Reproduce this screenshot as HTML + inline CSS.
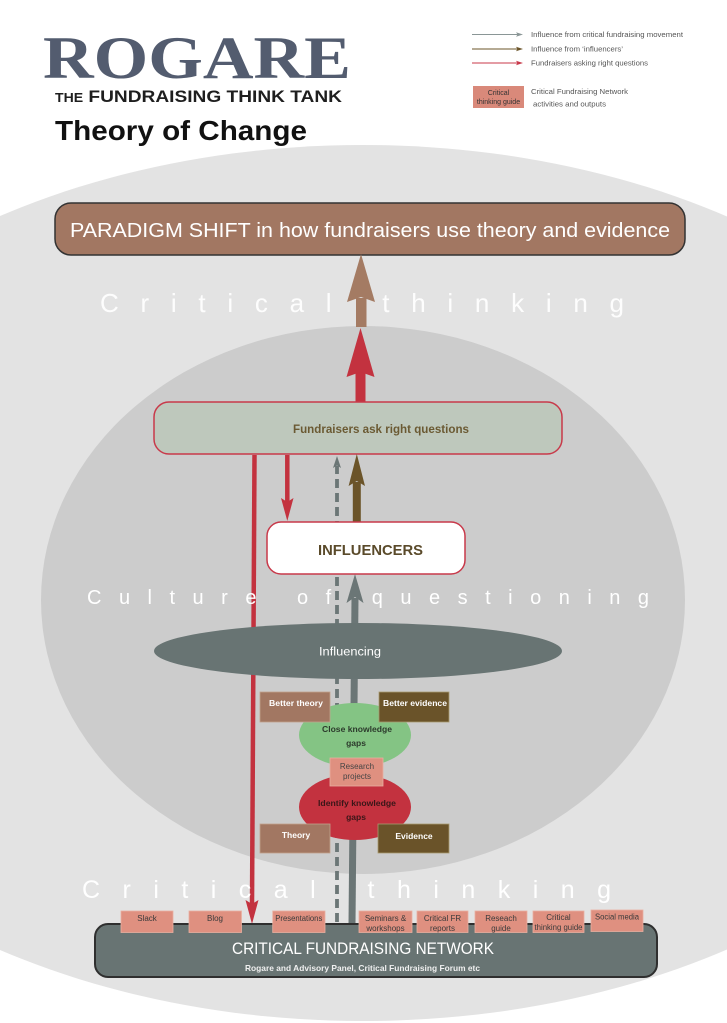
<!DOCTYPE html>
<html><head><meta charset="utf-8"><style>
html,body{margin:0;padding:0;background:#fff;}
svg{display:block;}
text{font-family:"Liberation Sans",sans-serif;}
text.serif{font-family:"Liberation Serif",serif;}
</style></head><body>
<svg width="727" height="1023" viewBox="0 0 727 1023" xmlns="http://www.w3.org/2000/svg">
<rect width="727" height="1023" fill="#fff"/>
<ellipse cx="363" cy="583" rx="665" ry="438" fill="#e3e3e3"/>
<ellipse cx="363" cy="600" rx="322" ry="274" fill="#cccccc"/>

<!-- header -->
<text class="serif" x="43" y="78" font-weight="bold" font-size="60" fill="#535c6f" textLength="308" lengthAdjust="spacingAndGlyphs">ROGARE</text>
<text x="55" y="102" font-weight="bold" font-size="17" fill="#1e1e1e" textLength="287" lengthAdjust="spacingAndGlyphs"><tspan font-size="12.5">THE</tspan> FUNDRAISING THINK TANK</text>
<text x="55" y="140" font-weight="bold" font-size="28" fill="#111" textLength="252" lengthAdjust="spacingAndGlyphs">Theory of Change</text>

<!-- legend -->
<line x1="472" y1="34.5" x2="518" y2="34.5" stroke="#8a9696" stroke-width="1"/>
<path d="M523,34.5 L516,32.2 L517.5,34.5 L516,36.8 Z" fill="#8a9696"/>
<text x="531" y="37" font-size="7.3" fill="#555" textLength="152" lengthAdjust="spacingAndGlyphs">Influence from critical fundraising movement</text>
<line x1="472" y1="49" x2="518" y2="49" stroke="#6b5429" stroke-width="1"/>
<path d="M523,49 L516,46.7 L517.5,49 L516,51.3 Z" fill="#6b5429"/>
<text x="531" y="51.5" font-size="7.3" fill="#555" textLength="92" lengthAdjust="spacingAndGlyphs">Influence from ‘influencers’</text>
<line x1="472" y1="63" x2="518" y2="63" stroke="#c8394a" stroke-width="1"/>
<path d="M523,63 L516,60.7 L517.5,63 L516,65.3 Z" fill="#c8394a"/>
<text x="531" y="65.5" font-size="7.3" fill="#555" textLength="117" lengthAdjust="spacingAndGlyphs">Fundraisers asking right questions</text>
<rect x="473" y="86" width="51" height="22" fill="#d9897a"/>
<text x="498.5" y="95" font-size="7" fill="#333" text-anchor="middle">Critical</text>
<text x="498.5" y="104" font-size="7" fill="#333" text-anchor="middle">thinking guide</text>
<text x="531" y="94" font-size="7.3" fill="#555" textLength="97" lengthAdjust="spacingAndGlyphs">Critical Fundraising Network</text>
<text x="533" y="106.5" font-size="7.3" fill="#555" textLength="73" lengthAdjust="spacingAndGlyphs">activities and outputs</text>

<!-- paradigm box -->
<rect x="55" y="203" width="630" height="52" rx="16" fill="#a27762" stroke="#333" stroke-width="1.5"/>
<text x="70" y="237" font-size="20" fill="#fff" textLength="600" lengthAdjust="spacingAndGlyphs">PARADIGM SHIFT in how fundraisers use theory and evidence</text>

<!-- top arrows -->
<rect x="356" y="298" width="10.5" height="29" fill="#a47b63"/>
<path d="M361,254 L375,302 L361,297 L347,302 Z" fill="#a47b63"/>
<rect x="355.5" y="372" width="10" height="31" fill="#c3323f"/>
<path d="M360.5,328 L374.5,377 L360.5,372 L346.5,377 Z" fill="#c3323f"/>

<!-- fundraisers box -->
<rect x="154" y="402" width="408" height="52" rx="15" fill="#bec8bc" stroke="#c8394a" stroke-width="1.5"/>
<text x="293" y="433" font-size="11.5" font-weight="bold" fill="#6b5a33" textLength="176" lengthAdjust="spacingAndGlyphs">Fundraisers ask right questions</text>

<!-- lines -->
<line x1="254.5" y1="455" x2="252" y2="906" stroke="#c3323f" stroke-width="4.5"/>
<path d="M252,924 L258.5,900 L252,904 L245.5,900 Z" fill="#c3323f"/>
<line x1="287.3" y1="455" x2="287.3" y2="503" stroke="#c3323f" stroke-width="4.5"/>
<path d="M287.3,521 L293.5,498 L287.3,502 L281,498 Z" fill="#c3323f"/>
<line x1="337" y1="922" x2="337" y2="466" stroke="#6b7676" stroke-width="3.8" stroke-dasharray="9 5"/>
<path d="M337,456 L341,468 L337,465.5 L333,468 Z" fill="#6b7676"/>
<rect x="352.8" y="482" width="8" height="41" fill="#6b5429"/>
<path d="M356.8,454 L365,486 L356.8,481 L348.6,486 Z" fill="#6b5429"/>
<path d="M351.5,598 L358.5,598 L355.5,924 L348.5,924 Z" fill="#6b7676"/>
<path d="M355,574 L363.5,603 L355,597 L346.5,603 Z" fill="#6b7676"/>

<!-- influencers -->
<rect x="267" y="522" width="198" height="52" rx="14" fill="#fff" stroke="#c8394a" stroke-width="1.5"/>
<text x="318" y="555" font-size="15" font-weight="bold" fill="#5a4a2a" textLength="105" lengthAdjust="spacingAndGlyphs">INFLUENCERS</text>

<!-- letter-spaced texts -->
<text x="100" y="312" font-size="26" fill="#fff" fill-opacity="0.93" textLength="524" lengthAdjust="spacing">Critical thinking</text>
<text x="87" y="604" font-size="20" fill="#fff" textLength="562" lengthAdjust="spacing">Culture of questioning</text>
<text x="82" y="898" font-size="25" fill="#fff" textLength="529" lengthAdjust="spacing">Critical thinking</text>

<!-- influencing -->
<ellipse cx="358" cy="651" rx="204" ry="28" fill="#687473"/>
<text x="319" y="655.5" font-size="11.5" fill="#fff" textLength="62" lengthAdjust="spacingAndGlyphs">Influencing</text>

<!-- knowledge cluster -->
<ellipse cx="355" cy="735" rx="56" ry="32" fill="#84c484"/>
<ellipse cx="355" cy="807" rx="56" ry="33" fill="#c3323f"/>
<rect x="260" y="692" width="70" height="30" fill="#a27762" stroke="#c2a08c" stroke-width="0.8"/>
<text x="269" y="706" font-size="8.5" font-weight="bold" fill="#fff" textLength="54" lengthAdjust="spacingAndGlyphs">Better theory</text>
<rect x="379" y="692" width="70" height="30" fill="#6a5329" stroke="#a89a70" stroke-width="0.8"/>
<text x="383" y="706" font-size="8.5" font-weight="bold" fill="#fff" textLength="64" lengthAdjust="spacingAndGlyphs">Better evidence</text>
<text x="322" y="732" font-size="8.5" font-weight="bold" fill="#2c3a2c" textLength="70" lengthAdjust="spacingAndGlyphs">Close knowledge</text>
<text x="356" y="746" font-size="8.5" font-weight="bold" fill="#2c3a2c" text-anchor="middle">gaps</text>
<rect x="330" y="758" width="53" height="28" fill="#df9080" stroke="#e9b0a0" stroke-width="0.8"/>
<text x="357" y="769" font-size="8" fill="#444" text-anchor="middle">Research</text>
<text x="357" y="779" font-size="8" fill="#444" text-anchor="middle">projects</text>
<text x="318" y="806" font-size="8.5" font-weight="bold" fill="#3a1618" textLength="78" lengthAdjust="spacingAndGlyphs">Identify knowledge</text>
<text x="356" y="820" font-size="8.5" font-weight="bold" fill="#3a1618" text-anchor="middle">gaps</text>
<rect x="260" y="824" width="70" height="29" fill="#a27762" stroke="#c2a08c" stroke-width="0.8"/>
<text x="296" y="838" font-size="8.5" font-weight="bold" fill="#fff" text-anchor="middle">Theory</text>
<rect x="378" y="824" width="71" height="29" fill="#6a5329" stroke="#a89a70" stroke-width="0.8"/>
<text x="414" y="839" font-size="8.5" font-weight="bold" fill="#fff" text-anchor="middle">Evidence</text>

<!-- network -->
<rect x="95" y="924" width="562" height="53" rx="13" fill="#687473" stroke="#2f2f2f" stroke-width="2"/>
<text x="232" y="954" font-size="16.5" fill="#fff" textLength="262" lengthAdjust="spacingAndGlyphs">CRITICAL FUNDRAISING NETWORK</text>
<text x="245" y="971" font-size="8.5" font-weight="bold" fill="#f0f0f0" textLength="235" lengthAdjust="spacingAndGlyphs">Rogare and Advisory Panel, Critical Fundraising Forum etc</text>

<g fill="#df9080" stroke="#e9b0a0" stroke-width="0.8">
<rect x="121" y="911" width="52" height="21.5"/>
<rect x="189" y="911" width="52.5" height="21.5"/>
<rect x="272.7" y="911" width="52.3" height="21.5"/>
<rect x="359" y="911" width="53" height="21.5"/>
<rect x="417" y="911" width="51" height="21.5"/>
<rect x="475" y="911" width="52" height="21.5"/>
<rect x="533" y="911" width="51" height="21.5"/>
<rect x="591" y="910" width="52" height="21.5"/>
</g>
<g font-size="8" fill="#3a3a3a" text-anchor="middle">
<text x="147" y="921">Slack</text>
<text x="215" y="921">Blog</text>
<text x="298.8" y="921" textLength="47" lengthAdjust="spacingAndGlyphs">Presentations</text>
<text x="385.5" y="921">Seminars &amp;</text>
<text x="385.5" y="931">workshops</text>
<text x="442.5" y="921">Critical FR</text>
<text x="442.5" y="931">reports</text>
<text x="501" y="921">Reseach</text>
<text x="501" y="931">guide</text>
<text x="558.5" y="920">Critical</text>
<text x="558.5" y="930" textLength="48" lengthAdjust="spacingAndGlyphs">thinking guide</text>
<text x="617" y="919.5" textLength="44" lengthAdjust="spacingAndGlyphs">Social media</text>
</g>
</svg>
</body></html>
